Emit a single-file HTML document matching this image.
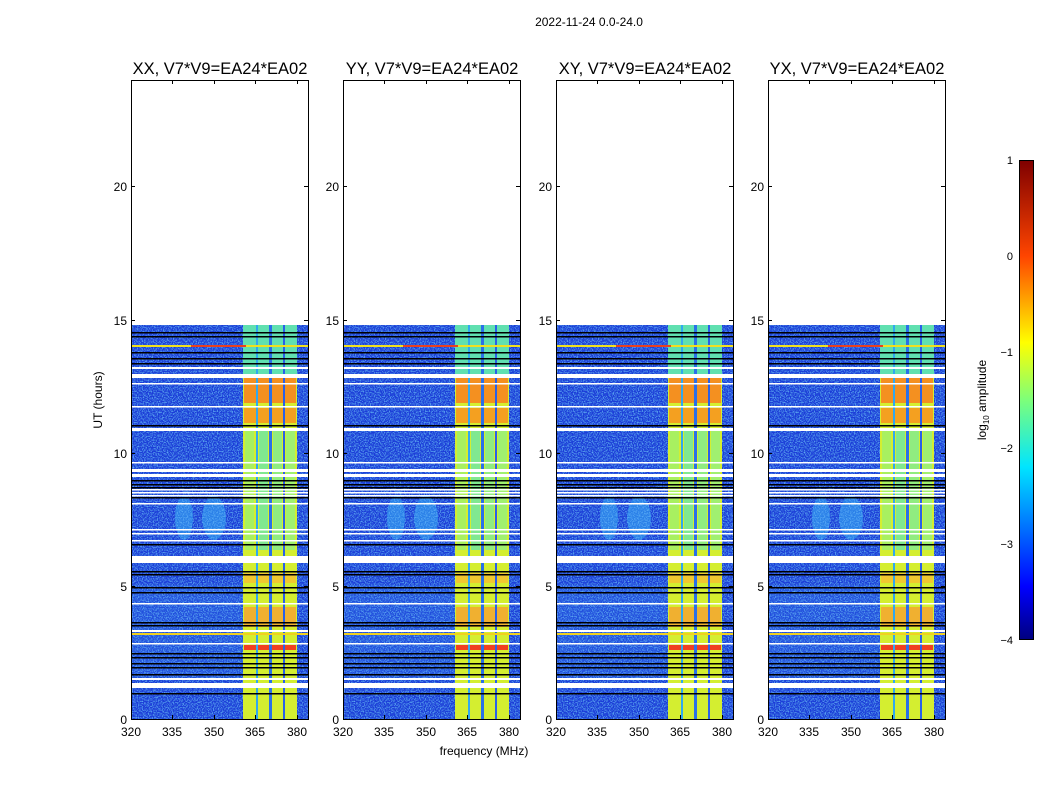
<!DOCTYPE html>
<html><head><meta charset="utf-8"><style>
html,body{margin:0;padding:0;background:#fff;}
svg{display:block;font-family:"Liberation Sans",sans-serif;}
</style></head><body>
<svg width="1050" height="800" viewBox="0 0 1050 800" xmlns="http://www.w3.org/2000/svg">
<defs>
<filter id="nz" x="0" y="0" width="100%" height="100%">
<feTurbulence type="fractalNoise" baseFrequency="0.8" numOctaves="1" seed="3" result="t"/>
<feColorMatrix in="t" type="matrix" values="0 0 0 0 0.15  0 0 0 0 0.55  0 0 0 0 1  0 0 0 2.2 -1.0" result="c"/>
<feComposite in="c" in2="SourceGraphic" operator="in" result="m"/>
<feMerge><feMergeNode in="SourceGraphic"/><feMergeNode in="m"/></feMerge>
</filter>
<linearGradient id="jet" x1="0" y1="1" x2="0" y2="0">
<stop offset="0" stop-color="#00007f"/><stop offset="0.11" stop-color="#0000ff"/>
<stop offset="0.36" stop-color="#00e5ff"/><stop offset="0.5" stop-color="#7dff7a"/>
<stop offset="0.62" stop-color="#ffff00"/><stop offset="0.8" stop-color="#ff4500"/>
<stop offset="1" stop-color="#7f0000"/></linearGradient>
<g id="data">
<g filter="url(#nz)">
<rect x="0" y="325" width="177" height="394" fill="#1a3cd8"/>
<ellipse cx="53" cy="518" rx="9" ry="22" fill="#2a80e8"/>
<ellipse cx="83" cy="518" rx="12" ry="22" fill="#2a80e8"/>
<rect x="0" y="585" width="112" height="95" fill="#2458e0" opacity="0.7"/>
</g>
<!-- columns -->
<rect x="112" y="325" width="54" height="394" fill="#60e0b0"/>
<rect x="112" y="374" width="54" height="345" fill="#d4ee30"/>
<rect x="114" y="430" width="9" height="120" fill="#a8f060"/>
<rect x="128" y="430" width="9" height="120" fill="#80e890"/>
<rect x="142" y="430" width="9" height="120" fill="#90ec80"/>
<rect x="155" y="430" width="9" height="120" fill="#a0f070"/>
<rect x="113" y="378" width="52" height="25" fill="#f49020"/>
<rect x="113" y="408" width="52" height="15" fill="#f4a020"/>
<rect x="113" y="607" width="52" height="20" fill="#f0b030"/>
<rect x="113" y="645" width="52" height="5" fill="#f04020"/>
<rect x="113" y="573" width="52" height="10" fill="#f0c830"/>
<rect x="125" y="325" width="2" height="394" fill="#30a8f0"/>
<rect x="138" y="325" width="3" height="394" fill="#2a70e8"/>
<rect x="152" y="325" width="2" height="394" fill="#2a60e8"/>
<rect x="0" y="345" width="177" height="2" fill="#f0e020"/>
<rect x="60" y="345" width="55" height="2" fill="#e84020"/>
<rect x="0" y="633" width="177" height="2" fill="#f0d020"/>
<g fill="#000">
<rect x="0" y="332" width="177" height="1.5"/><rect x="0" y="336" width="177" height="1.5"/>
<rect x="0" y="352" width="177" height="1.5"/><rect x="0" y="358" width="177" height="1.5"/>
<rect x="0" y="363" width="177" height="1.5"/><rect x="0" y="425" width="177" height="1.5"/>
<rect x="0" y="480" width="177" height="1.5"/><rect x="0" y="484" width="177" height="1.5"/>
<rect x="0" y="487" width="177" height="1.5"/><rect x="0" y="497" width="177" height="1.5"/>
<rect x="0" y="544" width="177" height="1.5"/><rect x="0" y="571" width="177" height="1.5"/>
<rect x="0" y="574" width="177" height="1.5"/><rect x="0" y="587" width="177" height="1.5"/>
<rect x="0" y="592" width="177" height="1.5"/><rect x="0" y="622" width="177" height="1.5"/>
<rect x="0" y="625" width="177" height="1.5"/><rect x="0" y="653" width="177" height="1.5"/>
<rect x="0" y="657" width="177" height="1.5"/><rect x="0" y="663" width="177" height="1.5"/>
<rect x="0" y="667" width="177" height="1.5"/><rect x="0" y="674" width="177" height="1.5"/>
<rect x="0" y="693" width="177" height="1.5"/>
</g>
<g fill="#fff">
<rect x="0" y="367" width="177" height="2"/><rect x="0" y="374" width="177" height="4"/>
<rect x="0" y="383" width="177" height="1.5"/><rect x="0" y="406" width="177" height="1.5"/>
<rect x="0" y="428" width="177" height="3"/><rect x="0" y="462" width="177" height="1.5"/>
<rect x="0" y="469" width="177" height="3"/><rect x="0" y="474" width="177" height="3"/>
<rect x="0" y="489" width="177" height="1.5"/><rect x="0" y="492" width="177" height="1.5"/>
<rect x="0" y="495" width="177" height="1.5"/><rect x="0" y="503" width="177" height="1.5"/>
<rect x="0" y="529" width="177" height="1.5"/><rect x="0" y="533" width="177" height="1.5"/>
<rect x="0" y="540" width="177" height="1.5"/><rect x="0" y="556" width="177" height="7"/>
<rect x="0" y="603" width="177" height="1.5"/><rect x="0" y="630" width="177" height="2"/>
<rect x="0" y="643" width="177" height="1.5"/><rect x="0" y="678" width="177" height="2"/>
<rect x="0" y="683" width="177" height="5"/>
</g>
</g>
<g id="axes">
<rect x="0.5" y="80.5" width="177" height="639" fill="none" stroke="#000" stroke-width="1"/>
<g stroke="#000" stroke-width="1">
<line x1="0" y1="586.5" x2="4" y2="586.5"/><line x1="0" y1="453.5" x2="4" y2="453.5"/>
<line x1="0" y1="320.5" x2="4" y2="320.5"/><line x1="0" y1="186.5" x2="4" y2="186.5"/>
<line x1="177" y1="586.5" x2="173" y2="586.5"/><line x1="177" y1="453.5" x2="173" y2="453.5"/>
<line x1="177" y1="320.5" x2="173" y2="320.5"/><line x1="177" y1="186.5" x2="173" y2="186.5"/>
<line x1="41.5" y1="719" x2="41.5" y2="715"/><line x1="83.5" y1="719" x2="83.5" y2="715"/>
<line x1="124.5" y1="719" x2="124.5" y2="715"/><line x1="166.5" y1="719" x2="166.5" y2="715"/>
<line x1="41.5" y1="80" x2="41.5" y2="84"/><line x1="83.5" y1="80" x2="83.5" y2="84"/>
<line x1="124.5" y1="80" x2="124.5" y2="84"/><line x1="166.5" y1="80" x2="166.5" y2="84"/>
</g>
<g font-size="12" fill="#000" text-anchor="end">
<text x="-4" y="724">0</text><text x="-4" y="591">5</text><text x="-4" y="458">10</text>
<text x="-4" y="325">15</text><text x="-4" y="191">20</text>
</g>
<g font-size="12" fill="#000" text-anchor="middle">
<text x="0" y="736">320</text><text x="41" y="736">335</text><text x="83" y="736">350</text>
<text x="124" y="736">365</text><text x="166" y="736">380</text>
</g>
</g>
</defs>
<text x="589" y="26" font-size="12" text-anchor="middle">2022-11-24 0.0-24.0</text>
<g transform="translate(131,0)"><use href="#data"/><use href="#axes"/><text x="89" y="74" font-size="16.5" text-anchor="middle">XX, V7*V9=EA24*EA02</text></g>
<g transform="translate(343,0)"><use href="#data"/><use href="#axes"/><text x="89" y="74" font-size="16.5" text-anchor="middle">YY, V7*V9=EA24*EA02</text></g>
<g transform="translate(556,0)"><use href="#data"/><use href="#axes"/><text x="89" y="74" font-size="16.5" text-anchor="middle">XY, V7*V9=EA24*EA02</text></g>
<g transform="translate(768,0)"><use href="#data"/><use href="#axes"/><text x="89" y="74" font-size="16.5" text-anchor="middle">YX, V7*V9=EA24*EA02</text></g>
<text x="102" y="400" font-size="12" text-anchor="middle" transform="rotate(-90 102 400)">UT (hours)</text>
<text x="484" y="755" font-size="12" text-anchor="middle">frequency (MHz)</text>
<rect x="1019.5" y="160.5" width="14" height="479" fill="url(#jet)" stroke="#000" stroke-width="1"/>
<g font-size="11" text-anchor="end">
<text x="1013" y="164">1</text><text x="1013" y="260">0</text><text x="1013" y="356">−1</text>
<text x="1013" y="452">−2</text><text x="1013" y="548">−3</text><text x="1013" y="644">−4</text>
</g>
<text x="986" y="400" font-size="12" text-anchor="middle" transform="rotate(-90 986 400)">log<tspan font-size="8" dy="3">10</tspan><tspan dy="-3"> amplitude</tspan></text>
</svg>
</body></html>
